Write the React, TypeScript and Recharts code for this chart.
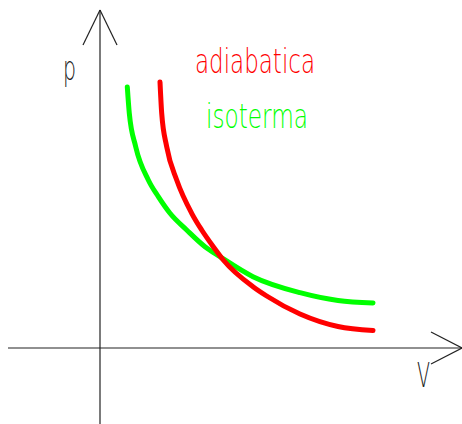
import React from "react";
import { LineChart, Line, XAxis, YAxis, ReferenceLine, ReferenceDot } from "recharts";

// Isotherm (green) and adiabat (red) in the p–V plane
const isothermV = [1.365, 1.465, 1.785, 2.415, 2.915, 3.5, 4.335, 5.25, 6.0, 7.65, 10.0, 11.9, 13.65];
const isothermP = [13.05, 11.735, 10.065, 8.4, 7.565, 6.735, 5.9, 5.065, 4.565, 3.565, 2.765, 2.375, 2.25];

const adiabatV = [3.0, 3.085, 3.335, 3.835, 4.585, 5.085, 5.665, 6.165, 7.65, 8.335, 10.0, 11.9, 13.65];
const adiabatP = [13.3, 11.735, 10.065, 8.4, 6.735, 5.9, 5.065, 4.4, 3.065, 2.6, 1.7, 1.075, 0.875];

const isotherm = isothermV.map((v, i) => ({ v, p: isothermP[i] }));
const adiabat = adiabatV.map((v, i) => ({ v, p: adiabatP[i] }));

// Labels
const legendLabels = ["adiabatica", "isoterma"];
const axisLabels = ["p", "V"];

// Plot frame
const X_DOMAIN: [number, number] = [-5, 18.1];
const Y_DOMAIN: [number, number] = [-3.8, 17.4];
const V_AXIS = { from: -4.6, to: 18.1, headBack: 16.55, headSpread: 0.8 };
const P_AXIS = { from: -3.8, to: 16.9, headBack: 15.15, headSpread: 0.85 };

const AXIS_COLOR = "#222";
const RED = "#ff0000";
const GREEN = "#00ff00";
const FONT = "'DejaVu Sans', sans-serif";

const textShape = (label: string, color: string, len: number) => (props: any) => (
  <text
    x={props.cx}
    y={props.cy}
    fill={color}
    fontFamily={FONT}
    fontWeight={200}
    fontSize={33}
    textLength={len}
    lengthAdjust="spacingAndGlyphs"
  >
    {label}
  </text>
);

const arrowLine = (from: { x: number; y: number }, to: { x: number; y: number }, key: string) => (
  <ReferenceLine
    key={key}
    segment={[from, to]}
    stroke={AXIS_COLOR}
    strokeWidth={1.2}
    ifOverflow="visible"
  />
);

export default function App() {
  return (
    <div style={{ position: "absolute", left: 0, top: 0, background: "#fff" }}>
      <LineChart width={462} height={424} margin={{ top: 0, right: 0, bottom: 0, left: 0 }}>
        <XAxis type="number" dataKey="v" domain={X_DOMAIN} hide allowDataOverflow />
        <YAxis type="number" dataKey="p" domain={Y_DOMAIN} hide allowDataOverflow />

        {/* V axis with arrowhead */}
        {arrowLine({ x: V_AXIS.from, y: 0 }, { x: V_AXIS.to, y: 0 }, "v-shaft")}
        {arrowLine({ x: V_AXIS.headBack, y: V_AXIS.headSpread }, { x: V_AXIS.to, y: 0 }, "v-head-up")}
        {arrowLine({ x: V_AXIS.headBack, y: -V_AXIS.headSpread }, { x: V_AXIS.to, y: 0 }, "v-head-down")}

        {/* p axis with arrowhead */}
        {arrowLine({ x: 0, y: P_AXIS.from }, { x: 0, y: P_AXIS.to }, "p-shaft")}
        {arrowLine({ x: -P_AXIS.headSpread, y: P_AXIS.headBack }, { x: 0, y: P_AXIS.to }, "p-head-left")}
        {arrowLine({ x: P_AXIS.headSpread, y: P_AXIS.headBack }, { x: 0, y: P_AXIS.to }, "p-head-right")}

        <Line
          data={isotherm}
          dataKey="p"
          type="monotone"
          stroke={GREEN}
          strokeWidth={5}
          strokeLinecap="round"
          dot={false}
          activeDot={false}
          isAnimationActive={false}
        />
        <Line
          data={adiabat}
          dataKey="p"
          type="monotone"
          stroke={RED}
          strokeWidth={5}
          strokeLinecap="round"
          dot={false}
          activeDot={false}
          isAnimationActive={false}
        />

        <ReferenceDot x={4.75} y={13.75} r={0} ifOverflow="visible" shape={textShape(legendLabels[0], RED, 120)} />
        <ReferenceDot x={5.3} y={11.0} r={0} ifOverflow="visible" shape={textShape(legendLabels[1], GREEN, 102)} />
        <ReferenceDot x={-1.85} y={13.4} r={0} ifOverflow="visible" shape={textShape(axisLabels[0], "#222", 13)} />
        <ReferenceDot x={15.85} y={-1.95} r={0} ifOverflow="visible" shape={textShape(axisLabels[1], "#222", 13)} />
      </LineChart>
    </div>
  );
}
